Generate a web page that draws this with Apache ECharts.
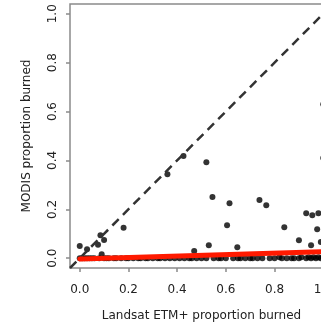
<!DOCTYPE html>
<html>
<head>
<meta charset="utf-8">
<script src="https://cdn.jsdelivr.net/npm/echarts@6/dist/echarts.min.js"></script>
<style>
html,body{margin:0;padding:0;background:#fff;}
#chart{width:321px;height:325px;}
</style>
</head>
<body>
<div id="chart"></div>
<script>
// Tick values / labels
var tickValues = [0, 0.2, 0.4, 0.6, 0.8, 1.0];
var xTickLabels = ['0.0', '0.2', '0.4', '0.6', '0.8', '1.0'];
var yTickLabels = ['0.0', '0.2', '0.4', '0.6', '0.8', '1.0'];
var xTitle = 'Landsat ETM+ proportion burned';
var yTitle = 'MODIS proportion burned';

// Scattered points (Landsat x, MODIS y)
var ptX = [0.426, 0.36, 0.52, 0.18, 0.545, 0.615, 0.738, 0.766, 0.605, 0.84, 0.975, 0.93, 0.955, 0.98, 0.53, 0.647, 0.90, 0.95, 0.99, 1.0, 1.0, 0.0, 0.03, 0.085, 0.10, 0.075, 0.09, 0.47];
var ptY = [0.418, 0.344, 0.393, 0.125, 0.25, 0.225, 0.238, 0.217, 0.135, 0.127, 0.119, 0.184, 0.176, 0.184, 0.053, 0.045, 0.074, 0.053, 0.066, 0.63, 0.41, 0.05, 0.037, 0.094, 0.075, 0.055, 0.016, 0.03];

// Points along zero (dense band)
var bandX = [0.0, 0.01, 0.02, 0.03, 0.04, 0.05, 0.06, 0.08, 0.10, 0.11, 0.12, 0.14, 0.15, 0.17, 0.19, 0.20, 0.22, 0.24, 0.25, 0.27, 0.28, 0.30, 0.32, 0.33, 0.35, 0.37, 0.39, 0.41, 0.43, 0.45, 0.46, 0.48, 0.50, 0.52, 0.55, 0.57, 0.58, 0.60, 0.63, 0.65, 0.66, 0.68, 0.70, 0.71, 0.73, 0.75, 0.78, 0.80, 0.82, 0.83, 0.85, 0.87, 0.88, 0.90, 0.91, 0.93, 0.94, 0.95, 0.96, 0.97, 0.98, 0.99, 1.00, 1.01, 1.02];
var bandY = [0, 0, 0, 0, 0, 0, 0, 0, 0, 0, 0, 0, 0, 0, 0, 0, 0, 0, 0, 0, 0, 0, 0, 0, 0, 0, 0, 0, 0, 0, 0, 0, 0, 0, 0, 0, 0, 0, 0, 0, 0, 0, 0, 0, 0, 0, 0, 0, 0.004, 0, 0, 0, 0, 0, 0.004, 0, 0.004, 0, 0.004, 0, 0.004, 0, 0.004, 0, 0];

// Reference 1:1 line and fitted regression line (end points)
var oneToOneX = [-0.04, 1.04];
var oneToOneY = [-0.04, 1.04];
var fitX = [0.0, 1.04];
var fitY = [-0.003, 0.028];

function pairs(a, b) { return a.map(function (v, i) { return [v, b[i]]; }); }

var chart = echarts.init(document.getElementById('chart'));
var font = 'DejaVu Sans, sans-serif';
var frameColor = '#8a8a8a';
chart.setOption({
  animation: false,
  grid: { left: 70, top: 4, width: 263, height: 264, outerBoundsMode: 'none', containLabel: false,
    show: true, borderColor: frameColor, borderWidth: 1.5, backgroundColor: 'transparent' },
  xAxis: {
    type: 'value', min: -0.04, max: 1.04,
    name: xTitle, nameLocation: 'middle', nameGap: 42,
    nameTextStyle: { fontFamily: font, fontSize: 12, color: '#222' },
    axisLine: { show: false, onZero: false },
    splitLine: { show: false },
    axisTick: { show: true, inside: false, length: 4, lineStyle: { color: frameColor, width: 1.5 }, customValues: tickValues },
    axisLabel: { margin: 16, fontFamily: font, fontSize: 12, color: '#222', customValues: tickValues,
      formatter: function (v) { var i = tickValues.indexOf(v); return i >= 0 ? xTickLabels[i] : ''; } }
  },
  yAxis: {
    type: 'value', min: -0.04, max: 1.04,
    name: yTitle, nameLocation: 'middle', nameGap: 37, nameRotate: 90,
    nameTextStyle: { fontFamily: font, fontSize: 12, color: '#222' },
    axisLine: { show: false, onZero: false },
    splitLine: { show: false },
    axisTick: { show: true, inside: false, length: 4, lineStyle: { color: frameColor, width: 1.5 }, customValues: tickValues },
    axisLabel: { margin: 11, rotate: 90, fontFamily: font, fontSize: 12, color: '#222', customValues: tickValues,
      formatter: function (v) { var i = tickValues.indexOf(v); return i >= 0 ? yTickLabels[i] : ''; } }
  },
  series: [
    { type: 'scatter', data: pairs(bandX, bandY), symbolSize: 6, itemStyle: { color: '#000' }, z: 2 },
    { type: 'scatter', data: pairs(ptX, ptY), symbolSize: 6, itemStyle: { color: '#000' }, z: 2 },
    { type: 'line', data: pairs(oneToOneX, oneToOneY), symbol: 'none', clip: true,
      lineStyle: { color: '#333', width: 2.5, type: [9, 6] }, z: 3 },
    { type: 'line', data: pairs(fitX, fitY), symbol: 'none', clip: true,
      lineStyle: { color: '#ff1a00', width: 5, cap: 'round' }, z: 4 }
  ]
});
</script>
</body>
</html>
